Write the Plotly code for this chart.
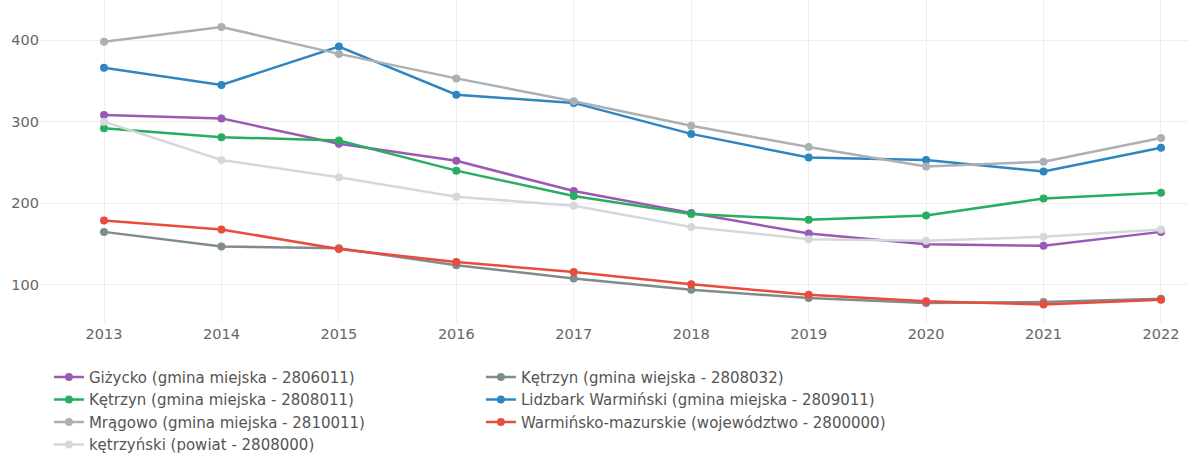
import plotly.graph_objects as go

years = [2013, 2014, 2015, 2016, 2017, 2018, 2019, 2020, 2021, 2022]

names = [
    "Giżycko (gmina miejska - 2806011)",
    "Kętrzyn (gmina wiejska - 2808032)",
    "Kętrzyn (gmina miejska - 2808011)",
    "Lidzbark Warmiński (gmina miejska - 2809011)",
    "Mrągowo (gmina miejska - 2810011)",
    "Warmińsko-mazurskie (województwo - 2800000)",
    "kętrzyński (powiat - 2808000)",
]

gizycko = [308, 304, 273, 252, 215, 188, 163, 150, 148, 165]
ketrzyn_wiejska = [165, 147, 145, 124, 108, 94, 84, 78, 79, 83]
ketrzyn_miejska = [292, 281, 277, 240, 209, 187, 180, 185, 206, 213]
lidzbark = [366, 345, 392, 333, 323, 285, 256, 253, 239, 268]
mragowo = [398, 416, 383, 353, 325, 295, 269, 245, 251, 280]
warminsko = [179, 168, 144, 128, 116, 101, 88, 80, 76, 82]
ketrzynski = [300, 253, 232, 208, 197, 171, 156, 154, 159, 168]

series = [gizycko, ketrzyn_wiejska, ketrzyn_miejska, lidzbark, mragowo, warminsko, ketrzynski]
colors = ["#9b59b6", "#7f8c8d", "#27ae60", "#2e86c1", "#aab0b3", "#e74c3c", "#d5d8da"]

fig = go.Figure()
for name, vals, col in zip(names, series, colors):
    fig.add_trace(go.Scatter(
        x=years, y=vals, name=name, mode="lines+markers",
        line=dict(color=col, width=2.5),
        marker=dict(color=col, size=8),
    ))

font = "DejaVu Sans"
fig.update_layout(
    width=1193, height=455,
    margin=dict(l=40, r=5, t=0, b=132, autoexpand=False),
    paper_bgcolor="white", plot_bgcolor="white",
    font=dict(family=font, size=14.5, color="#555"),
    showlegend=True,
    legend=dict(
        orientation="h", xref="container", yref="container",
        x=0.041, y=0.207, xanchor="left", yanchor="top",
        entrywidth=387, entrywidthmode="pixels",
        font=dict(family=font, size=15, color="#555"),
        tracegroupgap=0,
    ),
    xaxis=dict(
        range=[2012.455, 2022.23], tickmode="array", tickvals=years,
        showgrid=True, gridcolor="#eeeeee", zeroline=False, showline=False,
        tickfont=dict(color="#666"), automargin=False,
    ),
    yaxis=dict(
        range=[53.4, 449], tickvals=[100, 200, 300, 400],
        showgrid=True, gridcolor="#eeeeee", zeroline=False, showline=False,
        tickfont=dict(color="#666"), automargin=False,
    ),
)

fig.write_html(
    "out.html",
    config={"displayModeBar": False},
    post_script="document.body.style.margin='0';document.body.style.overflow='hidden';",
)
